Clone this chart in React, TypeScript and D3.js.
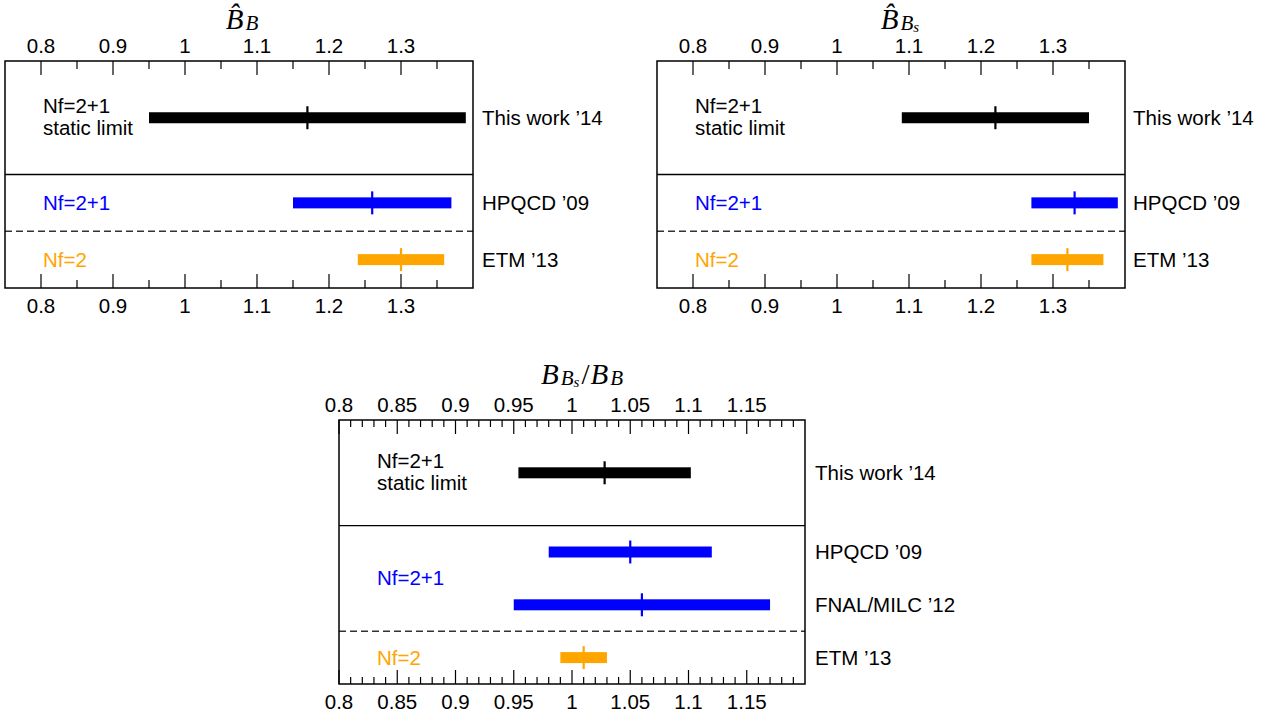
import React from "react";
import * as d3 from "d3";

const SANS = "'Liberation Sans', Arial, Helvetica, sans-serif";
const SERIF = "'Liberation Serif', 'Times New Roman', serif";

// ---- Panel 1: B-hat_B ----
const bbStudies = ["This work ’14", "HPQCD ’09", "ETM ’13"];
const bbCentral = [1.17, 1.26, 1.3];
const bbLower = [0.95, 1.15, 1.24];
const bbUpper = [1.39, 1.37, 1.36];
const bbGroup = ["static", "nf21", "nf2"];

// ---- Panel 2: B-hat_Bs ----
const bbsStudies = ["This work ’14", "HPQCD ’09", "ETM ’13"];
const bbsCentral = [1.22, 1.33, 1.32];
const bbsLower = [1.09, 1.27, 1.27];
const bbsUpper = [1.35, 1.39, 1.37];
const bbsGroup = ["static", "nf21", "nf2"];

// ---- Panel 3: B_Bs / B_B ----
const ratioStudies = ["This work ’14", "HPQCD ’09", "FNAL/MILC ’12", "ETM ’13"];
const ratioCentral = [1.028, 1.05, 1.06, 1.01];
const ratioLower = [0.954, 0.98, 0.95, 0.99];
const ratioUpper = [1.102, 1.12, 1.17, 1.03];
const ratioGroup = ["static", "nf21", "nf21", "nf2"];

// ---- tick labels ----
const bTickLabels = ["0.8", "0.9", "1", "1.1", "1.2", "1.3"];
const ratioTickLabels = ["0.8", "0.85", "0.9", "0.95", "1", "1.05", "1.1", "1.15"];

const groupColor: Record<string, string> = {
  static: "#000000",
  nf21: "#0000ff",
  nf2: "#ffa500",
};
const groupText: Record<string, string[]> = {
  static: ["Nf=2+1", "static limit"],
  nf21: ["Nf=2+1"],
  nf2: ["Nf=2"],
};
const groupWeight: Record<string, number> = { static: 2, nf21: 1, nf2: 1 };

type PanelProps = {
  left: number;
  top: number;
  width: number;
  height: number;
  domain: [number, number];
  tickLabels: string[];
  minorStep: number;
  minorLen: number;
  studies: string[];
  central: number[];
  lower: number[];
  upper: number[];
  group: string[];
  title: React.ReactNode;
  titleX: number;
  titleY: number;
  rightGap: number;
};

function Panel(p: PanelProps) {
  const x = d3.scaleLinear().domain(p.domain).range([p.left, p.left + p.width]);
  const weights = p.group.map((g) => groupWeight[g]);
  const total = d3.sum(weights);
  const y = d3.scaleLinear().domain([0, total]).range([p.top, p.top + p.height]);
  const cum = Array.from(d3.cumsum(weights));
  const rowY = p.group.map((_, i) => y(cum[i] - weights[i] / 2));
  const bottom = p.top + p.height;
  const right = p.left + p.width;

  const majorVals = p.tickLabels.map(Number);
  const nMinor = Math.round((p.domain[1] - p.domain[0]) / p.minorStep);
  const minorVals = d3
    .range(nMinor + 1)
    .map((i) => +(p.domain[0] + i * p.minorStep).toFixed(4))
    .filter(
      (v) =>
        v > p.domain[0] + 1e-6 &&
        v < p.domain[1] - 1e-6 &&
        !majorVals.some((m) => Math.abs(m - v) < 1e-6)
    );

  const dividers: { y: number; dashed: boolean }[] = [];
  for (let i = 1; i < p.group.length; i++) {
    if (p.group[i] !== p.group[i - 1]) {
      dividers.push({ y: y(cum[i - 1]), dashed: p.group[i] === "nf2" });
    }
  }
  const groups = Array.from(new Set(p.group));
  const groupLabels = groups.map((g) => {
    const ys = p.group
      .map((gg, i) => (gg === g ? rowY[i] : null))
      .filter((v) => v !== null) as number[];
    return { g, y: d3.mean(ys) as number };
  });

  return (
    <g>
      <text
        x={p.titleX}
        y={p.titleY}
        fontFamily={SERIF}
        fontStyle="italic"
        fontSize={29}
        textAnchor="middle"
        fill="#000"
      >
        {p.title}
      </text>
      {majorVals.map((v, i) => (
        <g key={"M" + i}>
          <line x1={x(v)} x2={x(v)} y1={p.top} y2={p.top + 14} stroke="#000" strokeWidth={1.2} />
          <line x1={x(v)} x2={x(v)} y1={bottom} y2={bottom - 14} stroke="#000" strokeWidth={1.2} />
          <text x={x(v)} y={p.top - 8} fontFamily={SANS} fontSize={20.5} textAnchor="middle" fill="#000">
            {p.tickLabels[i]}
          </text>
          <text x={x(v)} y={bottom + 25} fontFamily={SANS} fontSize={20.5} textAnchor="middle" fill="#000">
            {p.tickLabels[i]}
          </text>
        </g>
      ))}
      {minorVals.map((v, i) => (
        <g key={"m" + i}>
          <line x1={x(v)} x2={x(v)} y1={p.top} y2={p.top + p.minorLen} stroke="#000" strokeWidth={1.2} />
          <line x1={x(v)} x2={x(v)} y1={bottom} y2={bottom - p.minorLen} stroke="#000" strokeWidth={1.2} />
        </g>
      ))}
      {dividers.map((d, i) => (
        <line
          key={"d" + i}
          x1={p.left}
          x2={right}
          y1={d.y}
          y2={d.y}
          stroke={d.dashed ? "#333" : "#000"}
          strokeWidth={1.4}
          strokeDasharray={d.dashed ? "7,4" : undefined}
        />
      ))}
      {p.studies.map((s, i) => {
        const c = groupColor[p.group[i]];
        return (
          <g key={"b" + i}>
            <rect
              x={x(p.lower[i])}
              y={rowY[i] - 5.5}
              width={x(p.upper[i]) - x(p.lower[i])}
              height={11}
              fill={c}
            />
            <line
              x1={x(p.central[i])}
              x2={x(p.central[i])}
              y1={rowY[i] - 11.5}
              y2={rowY[i] + 11.5}
              stroke={c}
              strokeWidth={2.2}
            />
            <text x={right + p.rightGap} y={rowY[i] + 7} fontFamily={SANS} fontSize={20.5} fill="#000">
              {s}
            </text>
          </g>
        );
      })}
      {groupLabels.map(({ g, y: gy }) => {
        const lines = groupText[g];
        const offs = lines.length === 2 ? [-12, 10] : [0];
        return lines.map((t, j) => (
          <text
            key={g + j}
            x={p.left + 38}
            y={gy + offs[j] + 7}
            fontFamily={SANS}
            fontSize={20.5}
            fill={groupColor[g]}
          >
            {t}
          </text>
        ));
      })}
      <rect x={p.left} y={p.top} width={p.width} height={p.height} fill="none" stroke="#000" strokeWidth={1.5} />
    </g>
  );
}

export default function App() {
  return (
    <svg width={1273} height={717} style={{ position: "absolute", left: 0, top: 0, background: "#fff" }}>
      <rect width={1273} height={717} fill="#fff" />
      <Panel
        left={5}
        top={61}
        width={468}
        height={227}
        domain={[0.75, 1.4]}
        tickLabels={bTickLabels}
        minorStep={0.05}
        minorLen={8}
        studies={bbStudies}
        central={bbCentral}
        lower={bbLower}
        upper={bbUpper}
        group={bbGroup}
        titleX={242}
        titleY={29}
        rightGap={9}
        title={
          <>
            <tspan>{"B\u0302"}</tspan>
            <tspan fontSize={21} dx={2} dy={1}>B</tspan>
          </>
        }
      />
      <Panel
        left={657}
        top={61}
        width={468}
        height={227}
        domain={[0.75, 1.4]}
        tickLabels={bTickLabels}
        minorStep={0.05}
        minorLen={8}
        studies={bbsStudies}
        central={bbsCentral}
        lower={bbsLower}
        upper={bbsUpper}
        group={bbsGroup}
        titleX={900}
        titleY={29}
        rightGap={8}
        title={
          <>
            <tspan>{"B\u0302"}</tspan>
            <tspan fontSize={21} dx={2} dy={1}>B</tspan>
            <tspan fontSize={15} dy={2}>s</tspan>
          </>
        }
      />
      <Panel
        left={339}
        top={420}
        width={466}
        height={264}
        domain={[0.8, 1.2]}
        tickLabels={ratioTickLabels}
        minorStep={0.01}
        minorLen={7}
        studies={ratioStudies}
        central={ratioCentral}
        lower={ratioLower}
        upper={ratioUpper}
        group={ratioGroup}
        titleX={582}
        titleY={384}
        rightGap={10}
        title={
          <>
            <tspan>B</tspan>
            <tspan fontSize={21} dx={2} dy={1}>B</tspan>
            <tspan fontSize={15} dy={2}>s</tspan>
            <tspan dy={-3} dx={2} fontStyle="normal">/</tspan>
            <tspan dx={1}>B</tspan>
            <tspan fontSize={21} dx={2} dy={1}>B</tspan>
          </>
        }
      />
    </svg>
  );
}
